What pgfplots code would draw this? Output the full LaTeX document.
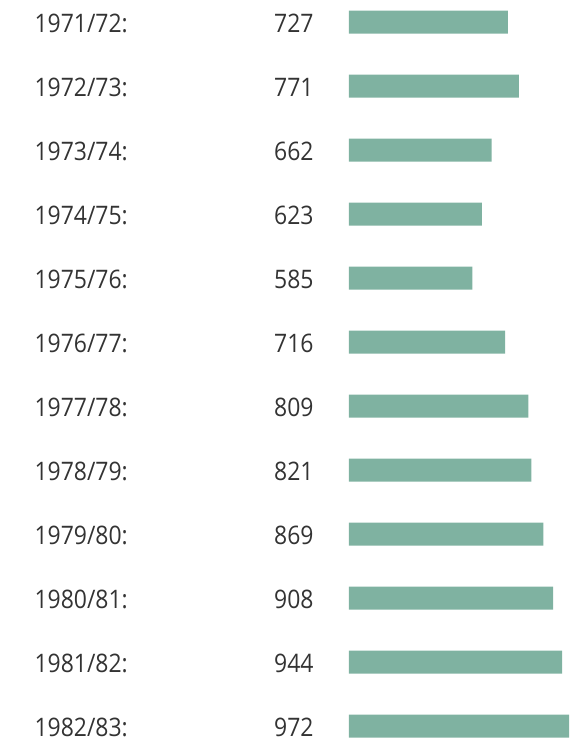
\documentclass[border=0pt]{standalone}
\usepackage{fontspec}
\setmainfont{Open Sans}[FakeStretch=0.9]
\usepackage{pgfplots}
\pgfplotsset{compat=1.18}
\definecolor{barc}{HTML}{7FB2A1}
\definecolor{txt}{HTML}{333333}
\newcommand{\lab}[2]{\makebox[279pt]{#1\hfill#2}}
\begin{document}
\begin{tikzpicture}
\begin{axis}[
  name=ax,
  scale only axis,
  width=229pt, height=742pt,
  xbar, bar width=23pt,
  xmin=90, xmax=1008,
  ymin=-0.344, ymax=11.25,
  y dir=reverse,
  axis line style={draw=none},
  tick style={draw=none},
  xtick=\empty,
  ytick={0,...,11},
  yticklabels={\lab{1971/72:}{727},\lab{1972/73:}{771},\lab{1973/74:}{662},\lab{1974/75:}{623},\lab{1975/76:}{585},\lab{1976/77:}{716},\lab{1977/78:}{809},\lab{1978/79:}{821},\lab{1979/80:}{869},\lab{1980/81:}{908},\lab{1981/82:}{944},\lab{1982/83:}{972}},
  yticklabel style={inner sep=0pt, anchor=east, font=\fontsize{25.5}{30}\selectfont, text=txt, yshift=-1pt},
  yticklabel shift=31pt,
]
\addplot[fill=barc, draw=none] coordinates {
(727,0) (771,1) (662,2) (623,3) (585,4) (716,5) (809,6) (821,7) (869,8) (908,9) (944,10) (972,11)};
\end{axis}
\path ([xshift=-349pt]ax.south west) rectangle (ax.north east);
\end{tikzpicture}
\end{document}
